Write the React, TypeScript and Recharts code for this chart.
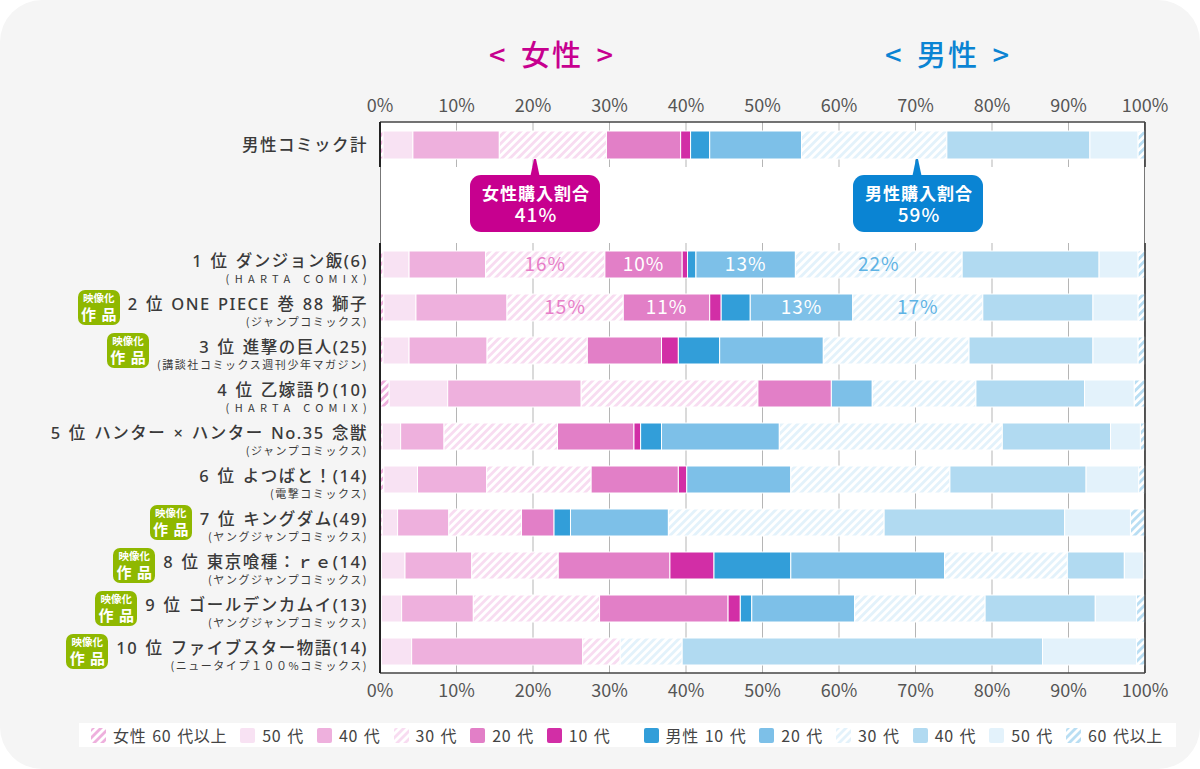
import React from 'react';
import { BarChart, Bar, XAxis, YAxis, CartesianGrid, ReferenceLine, LabelList, Legend } from 'recharts';

const FONT = '"Noto Sans CJK JP", "Noto Sans", sans-serif';
const NAME_FONT = '"Noto Sans", "Noto Sans CJK JP", sans-serif';

const titles = ['男性コミック計', '1 位 ダンジョン飯(6)', '2 位 ONE PIECE 巻 88 獅子', '3 位 進撃の巨人(25)', '4 位 乙嫁語り(10)', '5 位 ハンター × ハンター No.35 念獣', '6 位 よつばと！(14)', '7 位 キングダム(49)', '8 位 東京喰種：ｒｅ(14)', '9 位 ゴールデンカムイ(13)', '10 位 ファイブスター物語(14)'];
const imprints = ['', '(HARTA COMIX)', '(ジャンプコミックス)', '(講談社コミックス週刊少年マガジン)', '(HARTA COMIX)', '(ジャンプコミックス)', '(電撃コミックス)', '(ヤングジャンプコミックス)', '(ヤングジャンプコミックス)', '(ヤングジャンプコミックス)', '(ニュータイプ１００%コミックス)'];
const adapted = [false, false, true, true, false, false, false, true, true, true, true];

const f60 = [0.4, 0.4, 0.5, 0.4, 1.2, 0.3, 0.5, 0.3, 0.2, 0.2, 0.2];
const f50 = [3.9, 3.4, 4.2, 3.4, 7.65, 2.4, 4.4, 2.0, 3.07, 2.63, 3.94];
const f40 = [11.3, 10.0, 11.9, 10.2, 17.45, 5.67, 9.05, 6.7, 8.73, 9.37, 22.36];
const f30 = [14.0, 15.6, 15.2, 13.1, 23.1, 14.83, 13.65, 9.5, 11.3, 16.5, 4.9];
const f20 = [9.7, 10.1, 11.3, 9.7, 9.6, 10.0, 11.4, 4.25, 14.6, 16.8, 0];
const f10 = [1.3, 0.7, 1.5, 2.2, 0, 0.87, 1.1, 0, 5.76, 1.6, 0];
const m10 = [2.5, 1.1, 3.8, 5.4, 0, 2.73, 0, 2.15, 10.04, 1.5, 0];
const m20 = [12.0, 13.0, 13.4, 13.55, 5.35, 15.4, 13.6, 12.8, 20.1, 13.45, 0];
const m30 = [19.0, 21.8, 17.0, 19.05, 13.55, 29.15, 20.8, 28.2, 16.05, 17.05, 8.1];
const m40 = [18.7, 17.9, 14.4, 16.2, 14.2, 14.15, 17.8, 23.6, 7.45, 14.4, 47.1];
const m50 = [6.3, 5.1, 5.9, 5.9, 6.5, 3.9, 6.9, 8.6, 2.5, 5.4, 12.3];
const m60 = [0.9, 0.9, 0.9, 0.9, 1.4, 0.6, 0.8, 1.9, 0.2, 1.1, 1.1];

const labelF30 = ['', '16%', '15%', '', '', '', '', '', '', '', ''];
const labelF20 = ['', '10%', '11%', '', '', '', '', '', '', '', ''];
const labelM20 = ['', '13%', '13%', '', '', '', '', '', '', '', ''];
const labelM30 = ['', '22%', '17%', '', '', '', '', '', '', '', ''];

const percentTicks = [0, 10, 20, 30, 40, 50, 60, 70, 80, 90, 100];
const femaleShare = '41%';
const maleShare = '59%';

const rows = titles.map((name, i) => ({
  name, imprint: imprints[i], adapted: adapted[i],
  f60: f60[i], f50: f50[i], f40: f40[i], f30: f30[i], f20: f20[i], f10: f10[i],
  m10: m10[i], m20: m20[i], m30: m30[i], m40: m40[i], m50: m50[i], m60: m60[i],
  labelF30: labelF30[i], labelF20: labelF20[i], labelM20: labelM20[i], labelM30: labelM30[i],
}));

const series = [
  { key: 'f60', name: '女性 60 代以上', fill: 'url(#pF60)' },
  { key: 'f50', name: '50 代', fill: '#f8e2f3' },
  { key: 'f40', name: '40 代', fill: '#eeb0dd' },
  { key: 'f30', name: '30 代', fill: 'url(#pF30)', label: 'labelF30', labelColor: '#e77fc8' },
  { key: 'f20', name: '20 代', fill: '#e27fc7', label: 'labelF20', labelColor: '#ffffff' },
  { key: 'f10', name: '10 代', fill: '#d22ea6' },
  { key: 'm10', name: '男性 10 代', fill: '#329ed9' },
  { key: 'm20', name: '20 代', fill: '#7dc0e8', label: 'labelM20', labelColor: '#ffffff' },
  { key: 'm30', name: '30 代', fill: 'url(#pM30)', label: 'labelM30', labelColor: '#5fb3e4' },
  { key: 'm40', name: '40 代', fill: '#b1daf1' },
  { key: 'm50', name: '50 代', fill: '#e3f2fb' },
  { key: 'm60', name: '60 代以上', fill: 'url(#pM60)' },
];

const Stripe = ({ id, color }: { id: string; color: string }) => (
  <pattern id={id} width={5.66} height={5.66} patternUnits="userSpaceOnUse" patternTransform="rotate(45)">
    <rect width={5.66} height={5.66} fill="#ffffff" />
    <rect width={2.83} height={5.66} fill={color} />
  </pattern>
);

const Badge = () => (
  <div style={{ width: 42, height: 35, borderRadius: 7, background: '#8fb800', color: '#fff', flex: 'none', marginRight: 8, textAlign: 'center', fontWeight: 700, lineHeight: 1, fontFamily: FONT }}>
    <div style={{ fontSize: 10.5, marginTop: 3, whiteSpace: 'nowrap' }}>映像化</div>
    <div style={{ fontSize: 15, marginTop: 2, whiteSpace: 'pre', wordSpacing: 2 }}>作 品</div>
  </div>
);

const RowTick = (props: any) => {
  const { y, payload } = props;
  const row = rows.find((r) => r.name === payload.value);
  if (!row) return null;
  const latin = /[A-Z]/.test(row.imprint);
  return (
    <foreignObject x={0} y={y - 22} width={368} height={44}>
      <div style={{ display: 'flex', justifyContent: 'flex-end', alignItems: 'center', height: 44, fontFamily: NAME_FONT }}>
        {row.adapted ? <Badge /> : null}
        <div style={{ textAlign: 'right', whiteSpace: 'nowrap', color: '#3a3a3a', paddingTop: row.imprint ? 6 : 0 }}>
          <div style={{ fontSize: 16.5, lineHeight: '19px', fontWeight: 500, letterSpacing: 1.5, wordSpacing: 1.5 }}>{row.name}</div>
          {row.imprint ? (
            <div style={{ fontSize: 11, lineHeight: '14px', marginTop: 1, fontFamily: FONT, letterSpacing: latin ? 5.3 : 1.55, marginRight: latin ? -4 : 0 }}>{row.imprint}</div>
          ) : null}
        </div>
      </div>
    </foreignObject>
  );
};

const LegendContent = (props: any) => (
  <div style={{ width: 1097, height: 24, background: '#fff', display: 'flex', alignItems: 'center', paddingLeft: 12, boxSizing: 'border-box', fontFamily: FONT, fontSize: 16, color: '#444', whiteSpace: 'nowrap' }}>
    {(props.payload || []).map((item: any, i: number) => (
      <div key={i} style={{ display: 'flex', alignItems: 'center', marginRight: 13, marginLeft: item.dataKey === 'm10' ? 20 : 0 }}>
        <svg width={15} height={15} style={{ marginRight: 7 }}>
          <rect width={15} height={15} rx={2} fill={item.color} />
        </svg>
        <span style={{ letterSpacing: 0.7, wordSpacing: 1.5 }}>{item.value}</span>
      </div>
    ))}
  </div>
);

const stackBars = (size: number) =>
  series.map((s) => (
    <Bar key={s.key} dataKey={s.key} name={s.name} stackId="a" fill={s.fill} stroke="#ffffff" strokeWidth={1} barSize={size} isAnimationActive={false}>
      {s.label ? (
        <LabelList dataKey={s.label} position="center" fill={s.labelColor} fontSize={19} fontFamily={FONT} style={{ letterSpacing: 1 }} />
      ) : null}
    </Bar>
  ));

const axisTick = { fontSize: 18, fill: '#555', fontFamily: FONT };

const Callout = ({ x, w, tip, color, title, value }: any) => (
  <g>
    <path d={`M${tip - 5} 178 L${tip - 1} 159 L${tip + 1} 159 L${tip + 5} 178 Z`} fill={color} />
    <rect x={x} y={175} width={w} height={57} rx={11} fill={color} />
    <text x={x + w / 2 + 1} y={200} textAnchor="middle" fill="#fff" fontSize={17} fontWeight={700} fontFamily={FONT} style={{ letterSpacing: 1 }}>{title}</text>
    <text x={x + w / 2 + 1} y={222} textAnchor="middle" fill="#fff" fontSize={19} fontWeight={500} fontFamily={FONT} style={{ letterSpacing: 1 }}>{value}</text>
  </g>
);

export default function App() {
  return (
    <div style={{ position: 'absolute', left: 0, top: 0, width: 1200, height: 769, background: '#ffffff', overflow: 'hidden', fontFamily: FONT }}>
      <div style={{ position: 'absolute', inset: 0, background: '#f5f5f5', borderRadius: 42 }} />
      <svg width={0} height={0} style={{ position: 'absolute' }}>
        <defs>
          <Stripe id="pF60" color="#eeb0dd" />
          <Stripe id="pF30" color="#f8dcf1" />
          <Stripe id="pM30" color="#e3f2fb" />
          <Stripe id="pM60" color="#b9def3" />
        </defs>
      </svg>
      <div style={{ position: 'absolute', left: 380, top: 122, width: 765, height: 551, background: '#fff', borderLeft: '1px solid #777', borderRight: '1px solid #777', boxSizing: 'border-box' }} />

      <div style={{ position: 'absolute', left: 0, top: 90 }}>
        <BarChart width={1200} height={77} layout="vertical" data={rows.slice(0, 1)} margin={{ top: 0, right: 55, bottom: 0, left: 0 }}>
          <CartesianGrid horizontal={false} vertical stroke="#b5b5b5" />
          <XAxis type="number" orientation="top" domain={[0, 100]} ticks={percentTicks} interval={0} height={32} tickFormatter={(v) => `${v}%`} tick={axisTick} tickLine={false} tickMargin={4} axisLine={{ stroke: '#444', strokeWidth: 1.5 }} />
          <YAxis type="category" dataKey="name" width={380} tick={<RowTick />} tickLine={false} axisLine={{ stroke: '#222', strokeWidth: 2 }} />
          <ReferenceLine x={100} stroke="#333" strokeWidth={1.5} />
          {stackBars(28)}
        </BarChart>
      </div>

      <div style={{ position: 'absolute', left: 0, top: 243 }}>
        <BarChart width={1200} height={526} layout="vertical" data={rows.slice(1)} margin={{ top: 0, right: 55, bottom: 66, left: 0 }}>
          <CartesianGrid horizontal={false} vertical stroke="#b5b5b5" />
          <XAxis type="number" orientation="bottom" domain={[0, 100]} ticks={percentTicks} interval={0} height={30} tickFormatter={(v) => `${v}%`} tick={axisTick} tickLine={false} tickMargin={5} axisLine={{ stroke: '#444', strokeWidth: 1.5 }} />
          <YAxis type="category" dataKey="name" width={380} interval={0} tick={<RowTick />} tickLine={false} axisLine={{ stroke: '#222', strokeWidth: 2 }} />
          <ReferenceLine x={100} stroke="#333" strokeWidth={1.5} />
          {stackBars(27)}
          <Legend layout="horizontal" verticalAlign="middle" itemSorter={null} content={<LegendContent />} wrapperStyle={{ position: 'absolute', left: 79, top: 480, width: 1097, height: 24 }} />
        </BarChart>
      </div>

      <svg width={1200} height={769} style={{ position: 'absolute', left: 0, top: 0, pointerEvents: 'none' }}>
        <text x={552} y={66} textAnchor="middle" fill="#c7008f" fontSize={29} fontWeight={500} fontFamily={FONT} style={{ letterSpacing: 2, wordSpacing: 5 }}>{'< 女性 >'}</text>
        <text x={948} y={66} textAnchor="middle" fill="#0a84d3" fontSize={29} fontWeight={500} fontFamily={FONT} style={{ letterSpacing: 2, wordSpacing: 5 }}>{'< 男性 >'}</text>
        <Callout x={470} w={130} tip={535} color="#c7008f" title="女性購入割合" value={femaleShare} />
        <Callout x={853} w={130} tip={917} color="#0a84d3" title="男性購入割合" value={maleShare} />
      </svg>
    </div>
  );
}
